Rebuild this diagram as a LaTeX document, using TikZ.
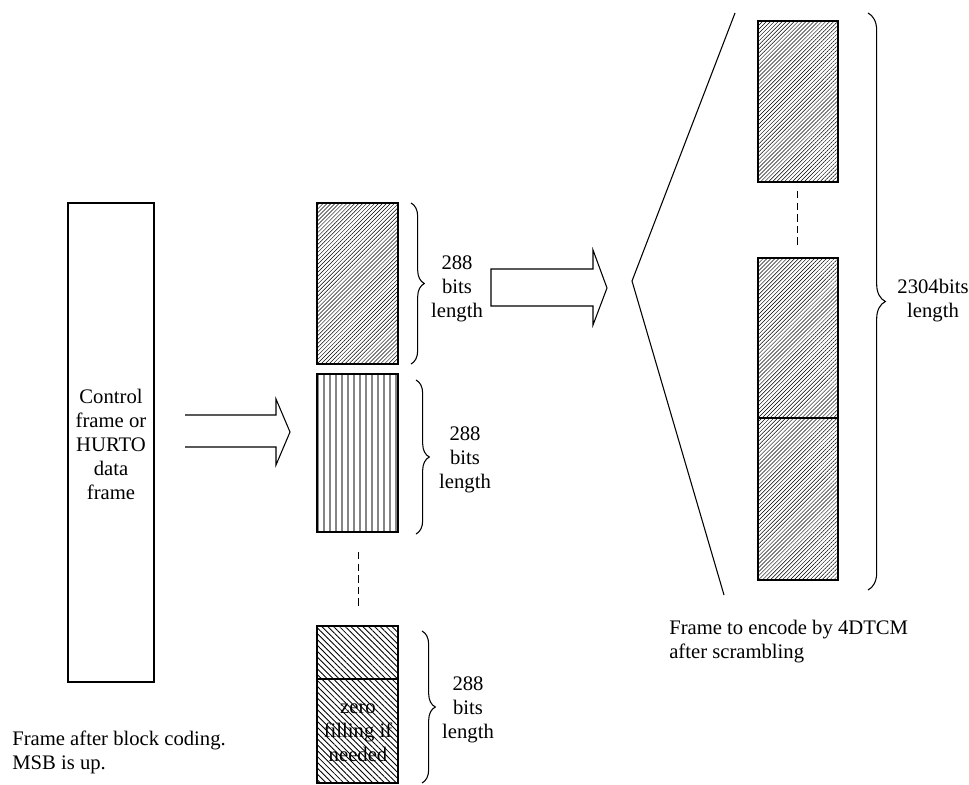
\documentclass[tikz,border=0pt]{standalone}
\usepackage{fontspec}
\setmainfont{Liberation Serif}
\usetikzlibrary{patterns.meta,decorations.pathreplacing}
\begin{document}
\begin{tikzpicture}[x=0.75pt,y=-0.75pt,
  txt/.style={font=\fontsize{15.5}{18}\selectfont,align=center,inner sep=0pt},
  capt/.style={font=\fontsize{15.5}{18}\selectfont,align=left,inner sep=0pt,anchor=west},
  frameblk/.style={draw,line width=1.1pt},
  hatchne/.style={frameblk,pattern={Lines[angle=45,distance=2.1pt,line width=0.35pt]},pattern color=black},
  hatchnw/.style={frameblk,pattern={Lines[angle=-45,distance=3.1pt,line width=0.65pt]},pattern color=black},
  hatchv/.style={frameblk,pattern={Lines[angle=90,distance=4.5pt,line width=1.4pt]},pattern color=black!48},
  fatarrow/.style={draw,line width=0.8pt,line join=miter},
  gapdash/.style={draw,line width=0.6pt,dash pattern=on 5.5pt off 3.2pt},
  curly/.style={draw,line width=0.8pt,decorate,decoration={brace,amplitude=#1}},
  curly/.default=10pt]
\useasboundingbox (0,0) rectangle (969,784);

% input frame
\draw[frameblk] (68,203) rectangle (154,682);
\node[txt] (ctrl) at (111,444) {Control\\frame or\\HURTO\\data\\frame};
\node[capt] (capL) at (12,752) {Frame after block coding.\\MSB is up.};

% open arrow into the split blocks
\draw[fatarrow] (185,415) -- (276,415) -- (276,399) -- (290,432) -- (276,465) -- (276,447) -- (185,447);

% 288-bit blocks
\draw[hatchne] (317,203) rectangle (398,364);
\draw[hatchv]  (317,374) rectangle (398,532);
\draw[gapdash] (358,552) -- (358,607);
\draw[hatchnw] (317,626) rectangle (398,679);
\draw[hatchnw] (317,679) rectangle (398,783);
\node[txt] (zero) at (358,733) {zero\\filling if\\needed};

\draw[curly=10pt] (411,203) -- (411,364);
\node[txt] (l1) at (457,289) {288\\bits\\length};
\draw[curly=10pt] (416,380) -- (416,534);
\node[txt] (l2) at (465,460) {288\\bits\\length};
\draw[curly=10pt] (422,631) -- (422,783);
\node[txt] (l3) at (468,710) {288\\bits\\length};

% closed arrow towards the expanded frame
\draw[fatarrow] (491,269) -- (593,269) -- (593,250) -- (607,288) -- (593,325) -- (593,306) -- (491,306) -- cycle;

% expansion wedge
\coordinate (fan) at (632,281);
\coordinate (fanT) at (735,13);
\coordinate (fanB) at (724,595);
\draw[line width=0.8pt] (fanT) -- (fan) -- (fanB);

% 2304-bit frame
\draw[hatchne] (758,21) rectangle (838,182);
\draw[gapdash] (797,191) -- (797,245);
\draw[hatchne] (758,258) rectangle (838,418);
\draw[hatchne] (758,418) rectangle (838,580);
\draw[curly=13pt] (868,13) -- (868,590);
\node[txt] (big) at (933,301) {2304bits\\length};
\node[capt] (capR) at (669,642) {Frame to encode by 4DTCM\\after scrambling};
\end{tikzpicture}
\end{document}
